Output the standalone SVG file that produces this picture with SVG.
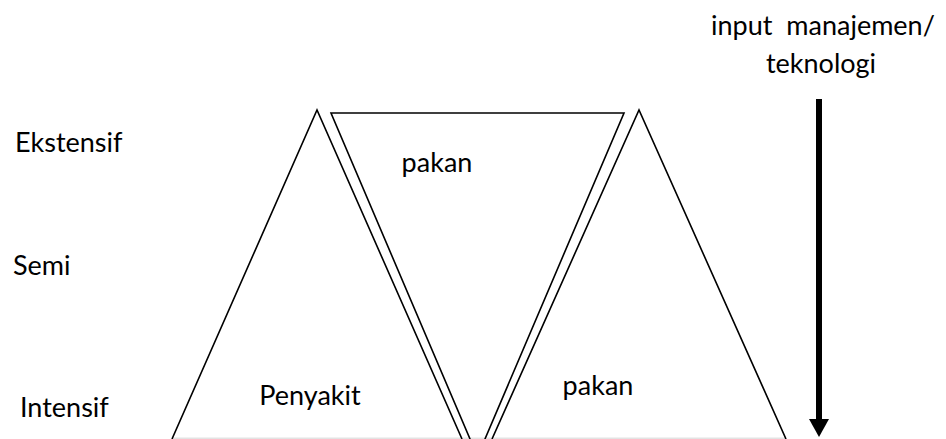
<svg xmlns="http://www.w3.org/2000/svg" width="946" height="439" viewBox="0 0 946 439">
<style>
text{font-family:Lato,"Open Sans","Liberation Sans",sans-serif;font-size:27px;fill:#000}
.tri{fill:none;stroke:#000;stroke-width:1.6;stroke-linejoin:miter}
.base{stroke:#e3e3e3;stroke-width:1.5}
</style>
<defs>
<marker id="ah" markerWidth="4" markerHeight="4" refX="0" refY="2" orient="auto" markerUnits="strokeWidth">
<path d="M0,0 L3,2 L0,4 Z" fill="#000"/>
</marker>
</defs>
<rect width="946" height="439" fill="#fff"/>
<line class="base" x1="172" y1="438.2" x2="786" y2="438.2"/>
<g id="left-triangle">
<polyline class="tri" points="172,439 317,110 462,439"/>
<text x="310" y="405" text-anchor="middle">Penyakit</text>
</g>
<g id="inverted-triangle">
<polyline class="tri" points="473,446 331,113 624,113 482,446"/>
<text x="437" y="172" text-anchor="middle">pakan</text>
</g>
<g id="right-triangle">
<polyline class="tri" points="492,439 639,110 786,439"/>
<text x="598" y="395" text-anchor="middle">pakan</text>
</g>
<g id="labels">
<text x="15" y="152">Ekstensif</text>
<text x="13" y="275">Semi</text>
<text x="20" y="417">Intensif</text>
<text x="823" y="35" text-anchor="middle" xml:space="preserve">input  manajemen/</text>
<text x="821" y="73" text-anchor="middle">teknologi</text>
</g>
<g id="connectors">
<line x1="819" y1="99" x2="819" y2="420" stroke="#000" stroke-width="6"/>
<path d="M809,419 L829,419 L819,437 Z" fill="#000"/>
</g>
</svg>
